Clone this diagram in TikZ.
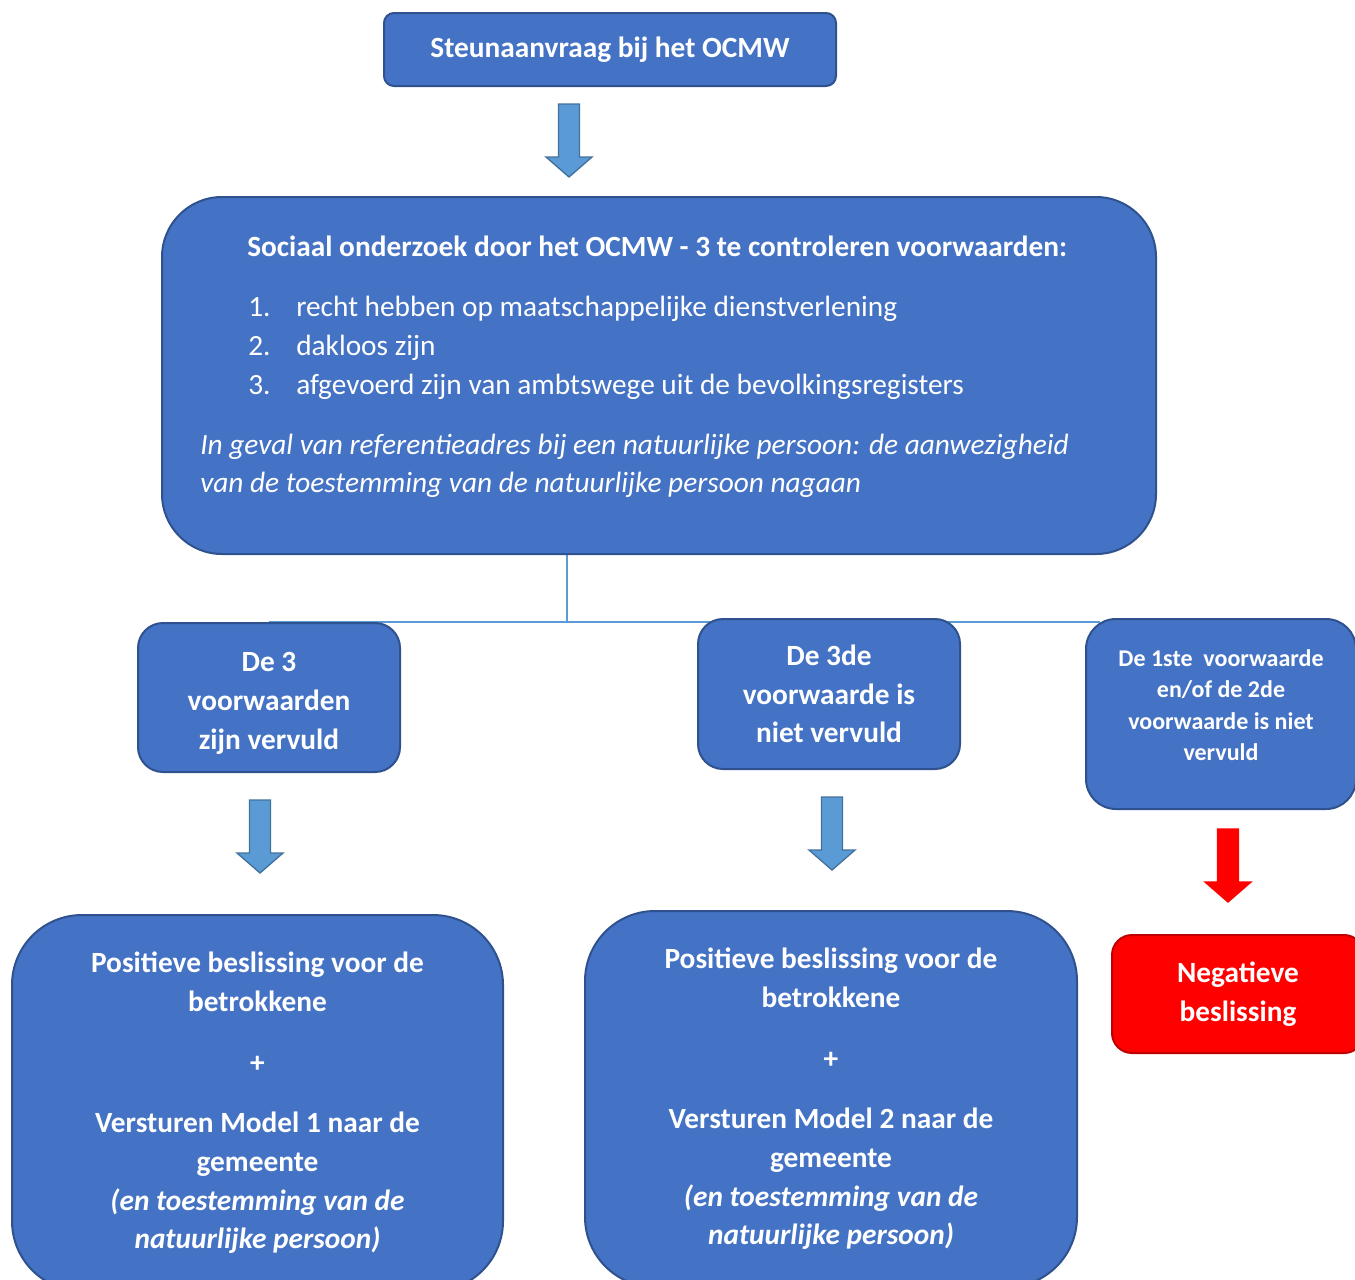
\documentclass[tikz,border=0pt]{standalone}
\usepackage{fontspec}
\setmainfont{Carlito}
\usetikzlibrary{positioning}
\definecolor{boxblue}{RGB}{68,114,196}
\definecolor{boxedge}{RGB}{47,82,143}
\definecolor{arrblue}{RGB}{91,155,213}
\definecolor{arredge}{RGB}{65,113,156}
\definecolor{linkblue}{RGB}{91,155,213}
\definecolor{stopred}{RGB}{255,0,0}
\definecolor{stopedge}{RGB}{192,0,0}
\newdimen\unitpx \unitpx=0.75pt

\begin{document}
\begin{tikzpicture}[x=0.75pt,y=-0.75pt,
  box/.style={draw=boxedge,line width=1.5pt,fill=boxblue,text=white,align=center,inner sep=0pt},
  stopbox/.style={box,draw=stopedge,fill=stopred},
  bigfont/.style={font=\fontsize{22}{29}\selectfont\bfseries},
  smallfont/.style={font=\fontsize{18}{23.6}\selectfont\bfseries},
  bodytext/.style={text=white,inner sep=0pt,align=left,font=\fontsize{22}{28.9}\selectfont},
  link/.style={draw=linkblue,line width=1pt},
  blockarr/.style={fill=arrblue,draw=arredge,line width=1pt},
  stoparr/.style={fill=stopred,draw=stopred,line width=1pt},
  downarrow/.pic={
    \filldraw[pic actions] (-10.5,0) -- (-10.5,53) -- (-23,53) -- (0,73)
      -- (23,53) -- (10.5,53) -- (10.5,0) -- cycle;
  },
]
\useasboundingbox (0,0) rectangle (1355,1279);

% connectors behind the boxes
\coordinate (drop) at (567,554);
\coordinate (joint) at (567,622);
\coordinate (jleft) at (269,622);
\coordinate (jright) at (1100,622);
\draw[link] (drop) -- (joint);
\draw[link] (jleft) -- (jright);

% request and social research
\node[box,rounded corners=10\unitpx,minimum width=452\unitpx,minimum height=73\unitpx,bigfont] (request) at (610,49.5) {Steunaanvraag bij het OCMW};
\pic[blockarr] (arrA) at (569,104) {downarrow};
\node[box,rounded corners=60\unitpx,minimum width=994\unitpx,minimum height=357\unitpx] (research) at (659,375.5) {};
\node[bodytext,anchor=base west,font=\fontsize{22}{29}\selectfont\bfseries] (restitle) at (247,256) {Sociaal onderzoek door het OCMW - 3 te controleren voorwaarden:};
\node[bodytext,anchor=base west] (conds) at (248,394) {\makebox[48\unitpx][l]{1.}recht hebben op maatschappelijke dienstverlening\\
  \makebox[48\unitpx][l]{2.}dakloos zijn\\
  \makebox[48\unitpx][l]{3.}afgevoerd zijn van ambtswege uit de bevolkingsregisters};
\node[bodytext,anchor=base west,font=\fontsize{22}{28.5}\selectfont\itshape] (refaddr) at (200,492) {In geval van referentieadres bij een natuurlijke persoon: de aanwezigheid\\
  van de toestemming van de natuurlijke persoon nagaan};

% three outcomes
\node[box,rounded corners=25\unitpx,minimum width=262\unitpx,minimum height=149\unitpx,bigfont] (allmet) at (269,697.5) {\mbox{}\\[-6pt]De 3\\voorwaarden\\zijn vervuld};
\node[box,rounded corners=25\unitpx,minimum width=262\unitpx,minimum height=150\unitpx,bigfont] (thirdnot) at (829,694) {De 3de\\voorwaarde is\\niet vervuld};
\node[box,rounded corners=30\unitpx,minimum width=270\unitpx,minimum height=190\unitpx,smallfont] (firstnot) at (1221,714) {De 1ste\ \ voorwaarde\\en/of de 2de\\voorwaarde is niet\\vervuld\\[-10pt]\mbox{}};

\pic[blockarr] (arrB) at (260,800) {downarrow};
\pic[blockarr] (arrC) at (832,797) {downarrow};
\pic[stoparr] (arrD) at (1228,829) {downarrow};

% decisions
\node[box,rounded corners=70\unitpx,minimum width=491\unitpx,minimum height=376\unitpx,bigfont] (model1) at (257.5,1103) {Positieve beslissing voor de\\betrokkene\\[22\unitpx]+\\[22\unitpx]Versturen Model 1 naar de\\gemeente\\\textit{(en toestemming van de}\\\textit{natuurlijke persoon)}};
\node[box,rounded corners=70\unitpx,minimum width=492\unitpx,minimum height=376\unitpx,bigfont] (model2) at (831,1099) {Positieve beslissing voor de\\betrokkene\\[22\unitpx]+\\[22\unitpx]Versturen Model 2 naar de\\gemeente\\\textit{(en toestemming van de}\\\textit{natuurlijke persoon)}};
\node[stopbox,rounded corners=20\unitpx,minimum width=252\unitpx,minimum height=118\unitpx,bigfont] (negative) at (1238,994) {Negatieve\\beslissing};
\end{tikzpicture}
\end{document}
